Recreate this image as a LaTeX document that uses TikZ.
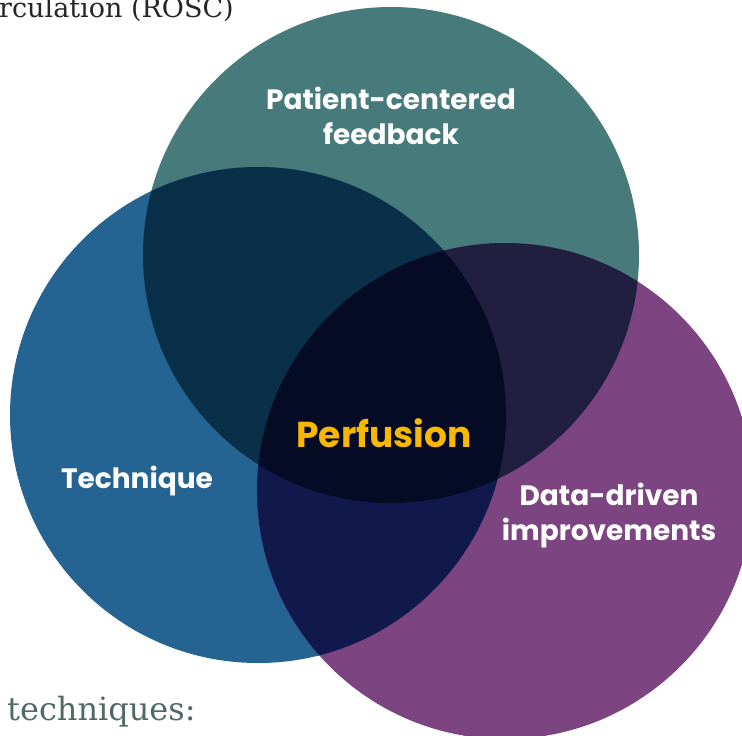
\documentclass[tikz,border=0pt]{standalone}
\usepackage{fontspec}
\setsansfont{Poppins}
\setmainfont{DejaVu Serif}
\usetikzlibrary{positioning}
\definecolor{teal1}{HTML}{477B7B}
\definecolor{blue1}{HTML}{256392}
\definecolor{purp1}{HTML}{7D4482}
\definecolor{tb}{HTML}{0A2F48}
\definecolor{tp}{HTML}{211F3F}
\definecolor{bp}{HTML}{11184B}
\definecolor{tbp}{HTML}{050B24}
\definecolor{gold1}{HTML}{F9B800}
\definecolor{note1}{HTML}{4F6A66}
\tikzset{
	lab/.style={text=white,font=\sffamily\bfseries\fontsize{28}{35}\selectfont,align=center},
	note/.style={font=\fontsize{32}{34}\selectfont,inner sep=0,anchor=base west}
}
\begin{document}
\begin{tikzpicture}[x=1pt,y=-1pt]
\useasboundingbox (0,0) rectangle (742,736);
\def\rad{248}
\coordinate (T) at (391,255);
\coordinate (B) at (258,415);
\coordinate (P) at (505,491);
\fill[teal1] (T) circle (\rad);
\fill[blue1] (B) circle (\rad);
\fill[purp1] (P) circle (\rad);
\begin{scope}
	\clip (T) circle (\rad);
	\fill[tb] (B) circle (\rad);
	\fill[tp] (P) circle (\rad);
\end{scope}
\begin{scope}
	\clip (B) circle (\rad);
	\fill[bp] (P) circle (\rad);
	\clip (T) circle (\rad);
	\fill[tbp] (P) circle (\rad);
\end{scope}
\node[lab] (pcf) at (391,116) {Patient-centered\\feedback};
\node[lab] (tec) at (137,481) {Technique};
\node[lab] (ddi) at (609,516) {Data-driven\\improvements};
\node[lab,text=gold1,font=\sffamily\bfseries\fontsize{36}{40}\selectfont] (perf) at (384,433) {Perfusion};
\node[note,text=black!85,font=\fontsize{27}{30}\selectfont] (rosc) at (-1,17) {rculation (ROSC)};
\node[note,text=note1] (tq) at (7,720) {techniques:};
\end{tikzpicture}
\end{document}
